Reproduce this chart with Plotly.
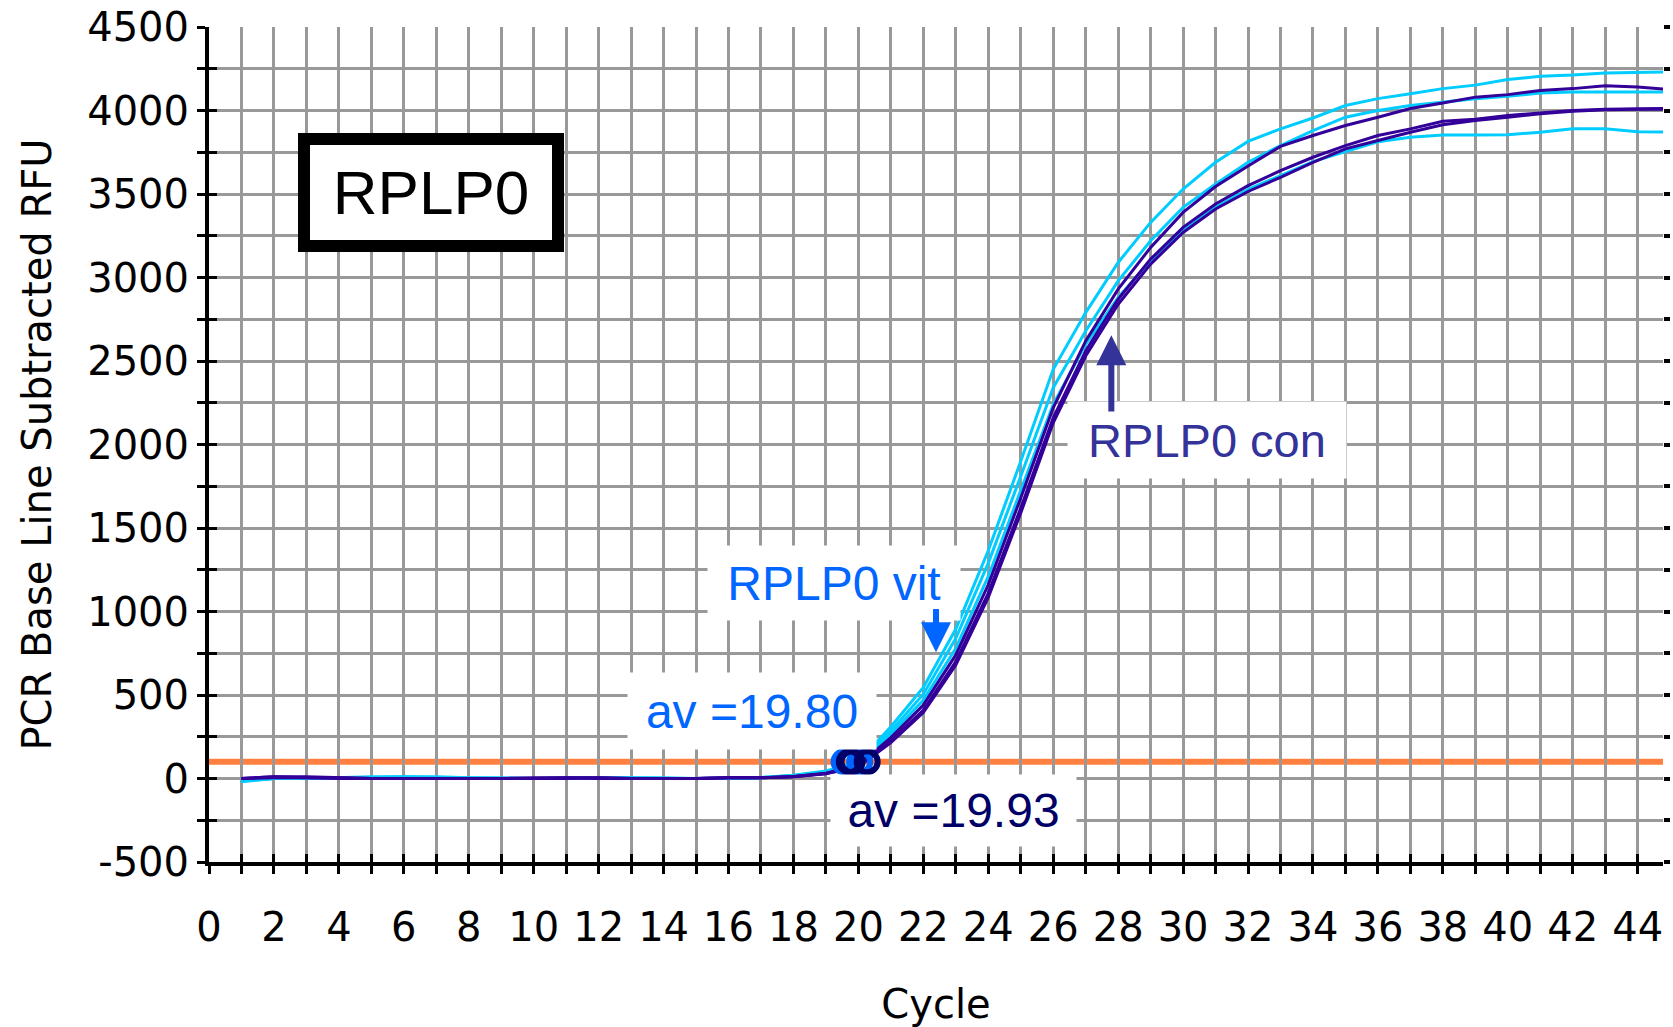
import plotly.graph_objects as go

# qPCR amplification data (baseline-subtracted RFU per cycle)
cycles = list(range(1, 46))

vit_a = [-20, 0, 0, 0, 5, 10, 10, 5, 5, 0, 0, 0, 5, 5, 0, 0, 5,
         20, 45, 100, 310, 545, 895, 1365, 1900, 2450, 2790,
         3090, 3330, 3530, 3690, 3815, 3890, 3955, 4030, 4071, 4100,
         4131, 4152, 4185, 4205, 4212, 4225, 4230, 4232]
vit_b = [-10, 0, 0, 5, 10, 10, 5, 5, 0, 0, 0, 5, 5, 0, 0, 0, 5,
         18, 40, 92, 285, 505, 840, 1290, 1810, 2340, 2680,
         2980, 3220, 3420, 3560, 3690, 3790, 3880, 3960, 4000, 4030,
         4052, 4071, 4085, 4105, 4111, 4111, 4111, 4111]
vit_c = [-15, 0, 0, 0, 5, 5, 5, 0, 0, 0, 5, 5, 0, 0, 0, 5, 5,
         15, 38, 85, 265, 470, 780, 1210, 1720, 2240, 2600,
         2880, 3100, 3280, 3420, 3528, 3610, 3694, 3754, 3813, 3840,
         3853, 3853, 3855, 3870, 3890, 3890, 3873, 3870]
con_a = [0, 10, 10, 5, 0, 0, 0, 0, 0, 0, 5, 5, 0, 0, 0, 5, 5,
         12, 32, 80, 245, 440, 740, 1160, 1680, 2220, 2620,
         2930, 3180, 3390, 3545, 3668, 3785, 3850, 3910, 3960, 4012,
         4045, 4080, 4095, 4120, 4131, 4148, 4140, 4125]
con_b = [0, 10, 5, 5, 0, 0, 0, 0, 0, 5, 5, 0, 0, 0, 0, 5, 5,
         10, 30, 75, 225, 410, 700, 1110, 1620, 2160, 2560,
         2870, 3110, 3300, 3440, 3550, 3640, 3720, 3790, 3850, 3890,
         3935, 3948, 3970, 3985, 4000, 4008, 4010, 4012]
con_c = [0, 5, 5, 0, 0, 0, 0, 0, 0, 0, 0, 5, 0, 0, 0, 5, 5,
         10, 28, 70, 215, 395, 680, 1085, 1590, 2130, 2530,
         2840, 3080, 3270, 3410, 3515, 3600, 3690, 3770, 3820, 3870,
         3915, 3940, 3960, 3980, 3995, 4005, 4008, 4008]

# threshold cycles of each replicate
vit_ct = [19.56, 19.80, 20.04]
con_ct = [19.72, 19.80, 20.27]
threshold = 100

x_tick_vals = list(range(0, 45, 2))
x_tick_text = [str(v) for v in x_tick_vals]
y_tick_vals = [-500, 0, 500, 1000, 1500, 2000, 2500, 3000, 3500, 4000, 4500]
y_tick_text = ["-500", "0", "500", "1000", "1500", "2000", "2500",
               "3000", "3500", "4000", "4500"]

gene = "RPLP0"
vit_label = "RPLP0 vit"
con_label = "RPLP0 con"
x_title = "Cycle"
y_title = "PCR Base Line Subtracted RFU"

VIT_COLOR = "#00CCFF"
CON_COLOR = "#330099"
VIT_TEXT = "#0066FF"
CON_TEXT = "#333399"
CON_AV = "#000066"
GRID = "#999999"

X_MAX = 44.78
Y_RANGE = [-500, 4500]

fig = go.Figure()

for ys in (vit_a, vit_b, vit_c):
    fig.add_trace(go.Scatter(x=cycles, y=ys, mode="lines",
                             line=dict(color=VIT_COLOR, width=3),
                             hoverinfo="skip"))
for ys in (con_a, con_b, con_c):
    fig.add_trace(go.Scatter(x=cycles, y=ys, mode="lines",
                             line=dict(color=CON_COLOR, width=3),
                             hoverinfo="skip"))

# Ct markers on the threshold line
fig.add_trace(go.Scatter(x=vit_ct, y=[threshold] * len(vit_ct), mode="markers",
                         marker=dict(symbol="circle-open", size=21, color=VIT_TEXT,
                                     line=dict(color=VIT_TEXT, width=6)),
                         hoverinfo="skip"))
fig.add_trace(go.Scatter(x=con_ct, y=[threshold] * len(con_ct), mode="markers",
                         marker=dict(symbol="circle-open", size=21, color=CON_AV,
                                     line=dict(color=CON_AV, width=6)),
                         hoverinfo="skip"))

# empty traces that carry the extra tick-mark axes
fig.add_trace(go.Scatter(x=[], y=[], xaxis="x2", yaxis="y2", hoverinfo="skip"))
fig.add_trace(go.Scatter(x=[], y=[], xaxis="x2", yaxis="y3", hoverinfo="skip"))

fig.add_shape(type="line", xref="paper", x0=0, x1=1, yref="y",
              y0=threshold, y1=threshold, layer="between",
              line=dict(color="#FF8040", width=6))

tick_font = dict(family="DejaVu Sans", size=40, color="black")
label_font = "Liberation Sans"

vit_av = sum(vit_ct) / len(vit_ct)
con_av = sum(con_ct) / len(con_ct)

annotations = [
    dict(x=6.84, y=3511, text=gene, showarrow=False,
         font=dict(family=label_font, size=62, color="black"),
         bgcolor="white", bordercolor="black", borderwidth=12, borderpad=0,
         width=242, height=95),
    dict(x=30.74, y=2027, text=con_label, showarrow=False,
         font=dict(family=label_font, size=47, color=CON_TEXT),
         bgcolor="white", borderpad=0, width=278, height=76),
    dict(x=19.25, y=1170, text=vit_label, showarrow=False,
         font=dict(family=label_font, size=48, color=VIT_TEXT),
         bgcolor="white", borderpad=0, width=252, height=74),
    dict(x=16.72, y=405, text=f"av ={vit_av:.2f}", showarrow=False,
         font=dict(family=label_font, size=48, color=VIT_TEXT),
         bgcolor="white", borderpad=0, width=248, height=76),
    dict(x=22.94, y=-194, text=f"av ={con_av:.2f}", showarrow=False,
         font=dict(family=label_font, size=48, color=CON_AV),
         bgcolor="white", borderpad=0, width=245, height=71),
    dict(x=27.79, y=2654, ax=27.79, ay=2189, axref="x", ayref="y",
         text="", showarrow=True, arrowhead=2, arrowsize=1, arrowwidth=6,
         arrowcolor=CON_TEXT),
    dict(x=22.39, y=756, ax=22.39, ay=1024, axref="x", ayref="y",
         text="", showarrow=True, arrowhead=2, arrowsize=1, arrowwidth=6,
         arrowcolor=VIT_TEXT),
]
for a in annotations:
    a.setdefault("xref", "x")
    a.setdefault("yref", "y")
    a.setdefault("xanchor", "center")
    a.setdefault("yanchor", "middle")

tick_mark_axis = dict(showticklabels=False, showgrid=False, zeroline=False,
                      showline=False, tickcolor="black")

fig.update_layout(
    width=1673, height=1027,
    margin=dict(l=209, r=4, t=24, b=164),
    plot_bgcolor="white", paper_bgcolor="white",
    showlegend=False,
    annotations=annotations,
    xaxis=dict(
        range=[0, X_MAX], tickvals=x_tick_vals, ticktext=x_tick_text,
        ticks="outside", ticklen=8, tickwidth=3, tickcolor="black",
        showline=True, linecolor="black", linewidth=4,
        showgrid=True, gridcolor=GRID, gridwidth=3, zeroline=False,
        minor=dict(tick0=0, dtick=1, ticks="outside", ticklen=8, tickwidth=3,
                   tickcolor="black", showgrid=True, gridcolor=GRID, gridwidth=3),
        tickfont=tick_font, ticklabelstandoff=19,
        title=dict(text=x_title, font=tick_font, standoff=45),
    ),
    yaxis=dict(
        range=Y_RANGE, tickvals=y_tick_vals, ticktext=y_tick_text,
        ticks="outside", ticklen=8, tickwidth=3, tickcolor="black",
        showline=True, linecolor="black", linewidth=4,
        showgrid=True, gridcolor=GRID, gridwidth=3, zeroline=False,
        minor=dict(tick0=0, dtick=250, ticks="outside", ticklen=8, tickwidth=3,
                   tickcolor="black", showgrid=True, gridcolor=GRID, gridwidth=3),
        tickfont=tick_font, ticklabelstandoff=0,
        title=dict(text=y_title, font=tick_font, standoff=24),
    ),
    # inner halves of the crossing tick marks
    xaxis2=dict(overlaying="x", anchor="y2", side="bottom", range=[0, X_MAX],
                tick0=0, dtick=1, ticks="inside", ticklen=8, tickwidth=3,
                **tick_mark_axis),
    yaxis2=dict(overlaying="y", anchor="x2", side="left", range=Y_RANGE,
                tick0=0, dtick=250, ticks="inside", ticklen=8, tickwidth=3,
                **tick_mark_axis),
    # small marks along the right edge
    yaxis3=dict(overlaying="y", anchor="x2", side="right", range=Y_RANGE,
                tick0=0, dtick=250, ticks="outside", ticklen=6, tickwidth=4,
                **tick_mark_axis),
)

fig.write_html("out.html")
